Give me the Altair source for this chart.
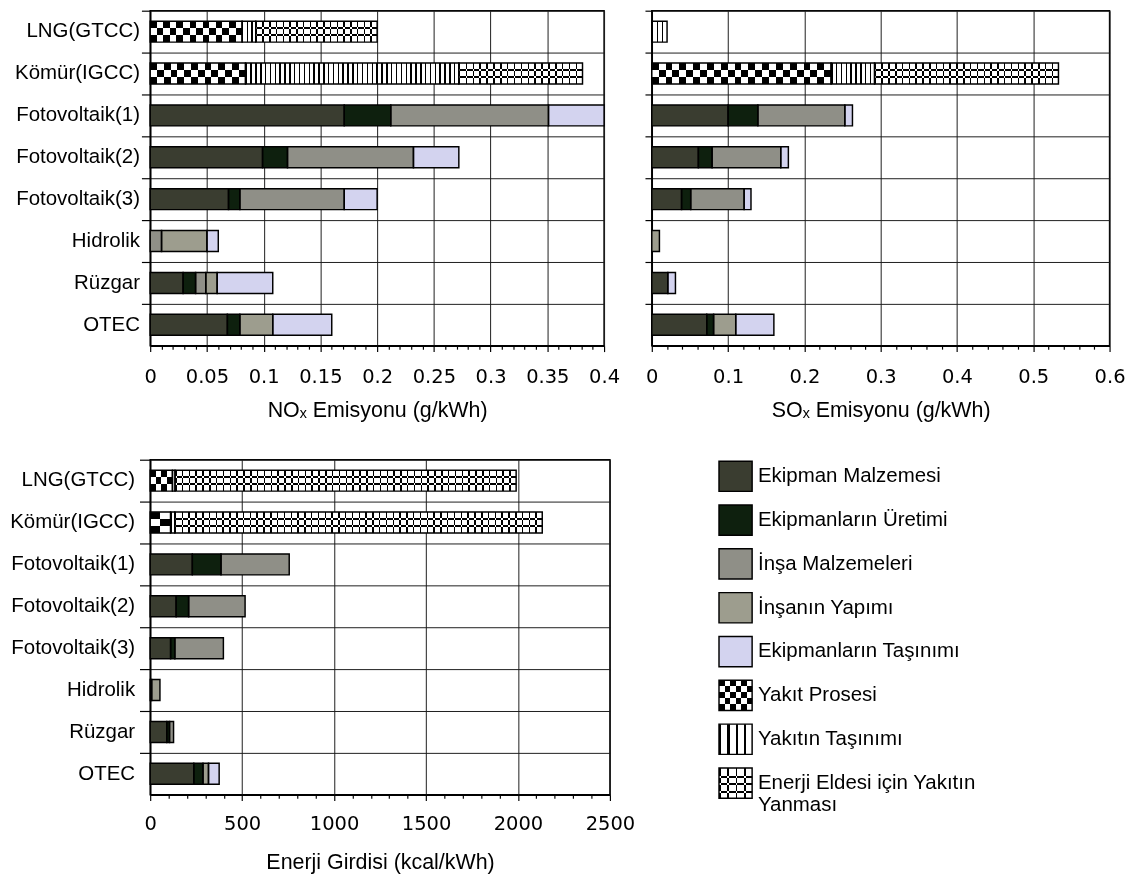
import altair as alt
import pandas as pd

techs = ["LNG(GTCC)", "Kömür(IGCC)", "Fotovoltaik(1)", "Fotovoltaik(2)",
         "Fotovoltaik(3)", "Hidrolik", "Rüzgar", "OTEC"]
cats = ["Ekipman Malzemesi", "Ekipmanların Üretimi", "İnşa Malzemeleri",
        "İnşanın Yapımı", "Ekipmanların Taşınımı", "Yakıt Prosesi",
        "Yakıtın Taşınımı", "Enerji Eldesi için Yakıtın Yanması"]
cat_colors = ["#3a3d30", "#0e200e", "#8f8f87", "#9d9d8e", "#d3d3ef",
              "#808080", "#bdbdbd", "#a6a6a6"]

# NOx emission (g/kWh), one list per category, in the order of techs
nox_ekipman_malzemesi = [0, 0, 0.171, 0.099, 0.069, 0, 0.029, 0.068]
nox_ekipman_uretimi = [0, 0, 0.041, 0.022, 0.010, 0, 0.011, 0.011]
nox_insa_malzemeleri = [0, 0, 0.139, 0.111, 0.092, 0.010, 0.009, 0]
nox_insa_yapimi = [0, 0, 0, 0, 0, 0.040, 0.010, 0.029]
nox_ekipman_tasinimi = [0, 0, 0.049, 0.040, 0.029, 0.010, 0.049, 0.052]
nox_yakit_prosesi = [0.081, 0.084, 0, 0, 0, 0, 0, 0]
nox_yakit_tasinimi = [0.012, 0.188, 0, 0, 0, 0, 0, 0]
nox_yakit_yanmasi = [0.107, 0.109, 0, 0, 0, 0, 0, 0]

# SOx emission (g/kWh)
sox_ekipman_malzemesi = [0, 0, 0.100, 0.061, 0.039, 0, 0.021, 0.072]
sox_ekipman_uretimi = [0, 0, 0.039, 0.018, 0.012, 0, 0, 0.009]
sox_insa_malzemeleri = [0, 0, 0.114, 0.090, 0.070, 0, 0, 0]
sox_insa_yapimi = [0, 0, 0, 0, 0, 0.010, 0, 0.029]
sox_ekipman_tasinimi = [0, 0, 0.010, 0.010, 0.009, 0, 0.010, 0.050]
sox_yakit_prosesi = [0, 0.235, 0, 0, 0, 0, 0, 0]
sox_yakit_tasinimi = [0.020, 0.057, 0, 0, 0, 0, 0, 0]
sox_yakit_yanmasi = [0, 0.241, 0, 0, 0, 0, 0, 0]

# Energy input (kcal/kWh)
en_ekipman_malzemesi = [0, 0, 229, 141, 111, 8, 90, 237]
en_ekipman_uretimi = [0, 0, 156, 68, 23, 0, 15, 50]
en_insa_malzemeleri = [0, 0, 371, 307, 264, 0, 22, 0]
en_insa_yapimi = [0, 0, 0, 0, 0, 45, 0, 30]
en_ekipman_tasinimi = [0, 0, 0, 0, 0, 0, 0, 58]
en_yakit_prosesi = [121, 111, 0, 0, 0, 0, 0, 0]
en_yakit_tasinimi = [14, 23, 0, 0, 0, 0, 0, 0]
en_yakit_yanmasi = [1855, 1998, 0, 0, 0, 0, 0, 0]

nox_major_step, nox_minor_step = 0.05, 0.01
sox_major_step, sox_minor_step = 0.1, 0.02
en_major_step, en_minor_step = 500, 100

legend_labels = ["Ekipman Malzemesi", "Ekipmanların Üretimi", "İnşa Malzemeleri",
                 "İnşanın Yapımı", "Ekipmanların Taşınımı", "Yakıt Prosesi",
                 "Yakıtın Taşınımı", "Enerji Eldesi için Yakıtın\nYanması"]

TRANSP = "rgba(255,255,255,0)"
PROSES, TASIN, YANMA = cats[5], cats[6], cats[7]


def vgrad(n, frac, c1="#000000", c2="#ffffff"):
    stops = []
    for i in range(n):
        a, b, c = i / n, (i + frac) / n, (i + 1) / n
        stops += [{"offset": a, "color": c1}, {"offset": b, "color": c1},
                  {"offset": b, "color": c2}, {"offset": c, "color": c2}]
    return {"gradient": "linear", "x1": 0, "y1": 0, "x2": 1, "y2": 0, "stops": stops}


def hbands(bands):
    stops = [{"offset": 0, "color": TRANSP}]
    for a, b in bands:
        stops += [{"offset": a, "color": TRANSP}, {"offset": a, "color": "#ffffff"},
                  {"offset": b, "color": "#ffffff"}, {"offset": b, "color": TRANSP}]
    stops.append({"offset": 1, "color": TRANSP})
    return {"gradient": "linear", "x1": 0, "y1": 0, "x2": 0, "y2": 1, "stops": stops}


def panel(vals, xmax, major_step, minor_step, fmt, title, W, H, show_labels,
          ytick, ylabpad, xlabpad, titlepad):
    rows = []
    for ci, cat in enumerate(cats):
        for ti, t in enumerate(techs):
            rows.append({"tech": t, "cat": cat, "order": ci, "value": vals[ci][ti]})
    df = pd.DataFrame(rows)

    conds = []
    for ti, t in enumerate(techs):
        for ci in (5, 6, 7):
            v = vals[ci][ti]
            if v <= 0:
                continue
            px = v / xmax * W
            if ci == 5:
                g = vgrad(max(1, round(px / 14)), 0.5)
            elif ci == 6:
                g = vgrad(max(1, round(px / 5)), 0.3)
            else:
                g = vgrad(max(1, round(px / 7)), 0.22)
            conds.append({"test": f"datum.tech === '{t}' && datum.cat === '{cats[ci]}'",
                          "value": g})

    n_minor = int(round(xmax / minor_step))
    tick_vals = [round(i * minor_step, 6) for i in range(n_minor + 1)]
    is_major = f"abs(datum.value / {major_step} - round(datum.value / {major_step})) < 1e-6"

    xscale = alt.Scale(domain=[0, xmax], nice=False, zero=True)
    xenc = alt.X("value:Q", stack="zero", scale=xscale,
                 axis=alt.Axis(values=tick_vals, format=fmt, orient="bottom",
                               labelExpr=f"({is_major}) ? datum.label : ''",
                               labelFont="DejaVu Sans", labelFontSize=20,
                               labelColor="black", labelPadding=xlabpad,
                               tickSize={"condition": {"test": is_major, "value": 6},
                                         "value": 3.5},
                               tickColor="black", tickWidth=1.2,
                               grid=True, gridColor="#1a1a1a", gridWidth=1,
                               gridOpacity={"condition": {"test": is_major, "value": 1},
                                            "value": 0},
                               domainColor="black", domainWidth=1.5,
                               title=title, titleFont="Liberation Sans",
                               titleFontSize=22, titleFontWeight="normal",
                               titleColor="black", titlePadding=titlepad,
                               labelOverlap=False, labelFlush=False))
    yenc = alt.Y("tech:N", sort=techs,
                 scale=alt.Scale(paddingInner=0, paddingOuter=0),
                 axis=alt.Axis(title=None, labels=show_labels,
                               labelFont="Liberation Sans", labelFontSize=21,
                               labelColor="black", labelPadding=ylabpad,
                               tickSize=ytick, tickColor="black", tickWidth=1.2,
                               grid=True, gridColor="#1a1a1a", gridWidth=1,
                               bandPosition=0, domainColor="black", domainWidth=1.5))
    order = alt.Order("order:Q")
    src = alt.Chart(df).transform_filter("datum.value > 0")

    base = src.mark_bar(height={"band": 0.5}, strokeWidth=0).encode(
        x=xenc, y=yenc, order=order,
        fill=alt.Fill("cat:N", scale=alt.Scale(domain=cats, range=cat_colors),
                      legend=None, condition=conds))
    overlay = src.mark_bar(height={"band": 0.5}, strokeWidth=0, blend="difference").encode(
        x=xenc, y=yenc, order=order,
        fill=alt.FillValue("transparent", condition=[
            {"test": f"datum.cat === '{PROSES}'", "value": hbands([(1 / 3, 2 / 3)])},
            {"test": f"datum.cat === '{YANMA}'", "value": hbands([(0.30, 0.38), (0.62, 0.70)])},
        ]))
    outline = src.mark_bar(height={"band": 0.5}, fill="transparent",
                           stroke="black", strokeWidth=1.5).encode(
        x=xenc, y=yenc, order=order)

    return alt.layer(base, overlay, outline).properties(width=W, height=H)


nox_vals = [nox_ekipman_malzemesi, nox_ekipman_uretimi, nox_insa_malzemeleri,
            nox_insa_yapimi, nox_ekipman_tasinimi, nox_yakit_prosesi,
            nox_yakit_tasinimi, nox_yakit_yanmasi]
sox_vals = [sox_ekipman_malzemesi, sox_ekipman_uretimi, sox_insa_malzemeleri,
            sox_insa_yapimi, sox_ekipman_tasinimi, sox_yakit_prosesi,
            sox_yakit_tasinimi, sox_yakit_yanmasi]
en_vals = [en_ekipman_malzemesi, en_ekipman_uretimi, en_insa_malzemeleri,
           en_insa_yapimi, en_ekipman_tasinimi, en_yakit_prosesi,
           en_yakit_tasinimi, en_yakit_yanmasi]

nox_panel = panel(nox_vals, 0.4, nox_major_step, nox_minor_step, "~g",
                  "NOₓ Emisyonu (g/kWh)", 466, 344, True, 9, 2, 16, 14)
sox_panel = panel(sox_vals, 0.6, sox_major_step, sox_minor_step, "~g",
                  "SOₓ Emisyonu (g/kWh)", 470, 344, False, 7, 0, 16, 14)
en_panel = panel(en_vals, 2500, en_major_step, en_minor_step, "d",
                 "Enerji Girdisi (kcal/kWh)", 472, 344, True, 11, 5, 14, 19)

# legend panel
leg_df = pd.DataFrame({"cat": cats, "label": legend_labels})
leg_y = alt.Y("cat:N", sort=cats, axis=None,
              scale=alt.Scale(paddingInner=0.31, paddingOuter=0.155))
leg_src = alt.Chart(leg_df)
leg_base = leg_src.mark_rect(yOffset=-5.5).encode(
    y=leg_y, x=alt.value(0), x2=alt.value(34),
    fill=alt.Fill("cat:N", scale=alt.Scale(domain=cats, range=cat_colors), legend=None,
                  condition=[
                      {"test": f"datum.cat === '{PROSES}'", "value": vgrad(3, 0.5)},
                      {"test": f"datum.cat === '{TASIN}'", "value": vgrad(4, 0.3)},
                      {"test": f"datum.cat === '{YANMA}'", "value": vgrad(4, 0.22)},
                  ]))
leg_overlay = leg_src.mark_rect(yOffset=-5.5, blend="difference").encode(
    y=leg_y, x=alt.value(0), x2=alt.value(34),
    fill=alt.FillValue("transparent", condition=[
        {"test": f"datum.cat === '{PROSES}'", "value": hbands([(0.2, 0.4), (0.6, 0.8)])},
        {"test": f"datum.cat === '{YANMA}'",
         "value": hbands([(0.25, 0.32), (0.5, 0.57), (0.75, 0.82)])},
    ]))
leg_outline = leg_src.mark_rect(yOffset=-5.5, fill="transparent", stroke="black",
                                strokeWidth=1.5).encode(
    y=leg_y, x=alt.value(0), x2=alt.value(34))
leg_text = leg_src.mark_text(yOffset=-5.5, align="left", baseline="middle",
                             font="Liberation Sans", fontSize=21, color="black",
                             lineBreak="\n").encode(
    y=leg_y, x=alt.value(40), text="label:N")
legend_panel = alt.layer(leg_base, leg_overlay, leg_outline, leg_text).properties(
    width=270, height=360, view=alt.ViewBackground(stroke="transparent"))

top = alt.hconcat(nox_panel, sox_panel, spacing=23)
bottom = alt.hconcat(en_panel, legend_panel, spacing=83)
chart = alt.vconcat(top, bottom, spacing=37).properties(
    padding={"left": 0, "top": -11, "right": 5, "bottom": 5},
    background="white",
).configure_view(stroke="black", strokeWidth=1.5)

chart.save("out.html", embed_options={"renderer": "svg", "actions": False})
